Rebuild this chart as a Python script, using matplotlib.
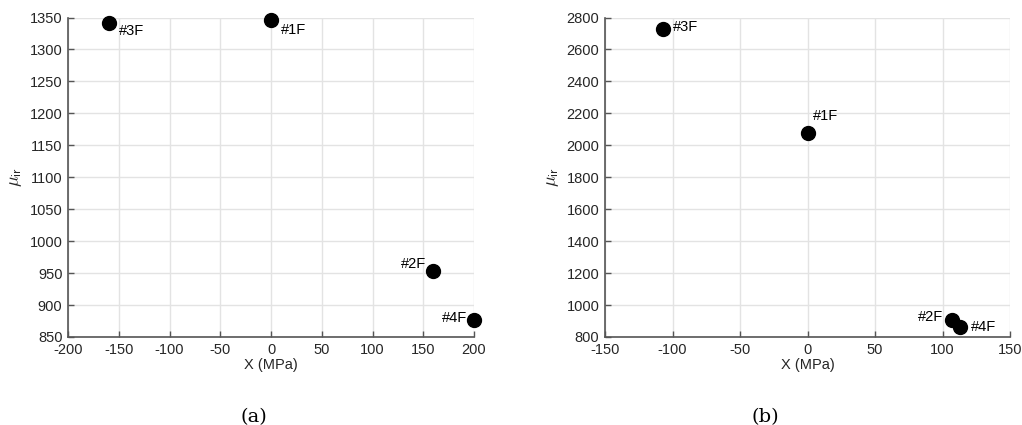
import matplotlib
matplotlib.use("Agg")
import matplotlib.pyplot as plt

# Data
labels = ["#1F", "#2F", "#3F", "#4F"]
x_a = [0, 160, -160, 200]
mu_a = [1346, 953, 1342, 877]
x_b = [0, 107, -107, 113]
mu_b = [2076, 905, 2728, 861]

# label offsets in pixels (dx, dy, ha)
offs_a = {"#1F": (10, -10, "left"), "#2F": (-7, 7, "right"),
          "#3F": (10, -8, "left"), "#4F": (-7, 2, "right")}
offs_b = {"#1F": (5, 17, "left"), "#2F": (-9, 3, "right"),
          "#3F": (10, 2, "left"), "#4F": (11, 0, "left")}

plt.rcParams['font.family'] = ['Liberation Sans', 'DejaVu Sans']
plt.rcParams['mathtext.fontset'] = 'cm'
plt.rcParams['axes.unicode_minus'] = False

W, H = 1022, 425
fig = plt.figure(figsize=(W / 100, H / 100), dpi=100)

def px_axes(l, r, t, b):
    return fig.add_axes([l / W, 1 - b / H, (r - l) / W, (b - t) / H])

ax1 = px_axes(68, 474, 17.5, 337)
ax2 = px_axes(605, 1010, 17.5, 337)

def style(ax, xlim, xticks, ylim, yticks):
    ax.set_xlim(*xlim)
    ax.set_ylim(*ylim)
    ax.set_xticks(xticks)
    ax.set_yticks(yticks)
    ax.grid(True, color='#e3e3e3', linewidth=1.0)
    ax.set_axisbelow(True)
    for s in ['top', 'right']:
        ax.spines[s].set_visible(False)
    for s in ['left', 'bottom']:
        ax.spines[s].set_color('#555555')
        ax.spines[s].set_linewidth(1.2)
    ax.tick_params(direction='in', length=4, width=1, colors='#555555',
                   labelcolor='#262626', labelsize=10.5, pad=4)
    ax.set_xlabel('X (MPa)', fontsize=10.5, color='#262626', labelpad=1)
    ax.set_ylabel(r'$\mu_{\mathsf{ir}}$', fontsize=13, color='#262626', labelpad=4)

style(ax1, (-200, 200), list(range(-200, 201, 50)), (850, 1350), list(range(850, 1351, 50)))
style(ax2, (-150, 150), list(range(-150, 151, 50)), (800, 2800), list(range(800, 2801, 200)))

for ax, xs, ys, offs in [(ax1, x_a, mu_a, offs_a), (ax2, x_b, mu_b, offs_b)]:
    ax.scatter(xs, ys, s=100, color='black', zorder=3, clip_on=False)
    for lab, xv, yv in zip(labels, xs, ys):
        dx, dy, ha = offs[lab]
        ax.annotate(lab, (xv, yv), xytext=(dx, dy), textcoords='offset pixels',
                    ha=ha, va='center', fontsize=10.5, color='black')

fig.text(254 / W, 1 - 417 / H, '(a)', ha='center', va='center',
         fontsize=14, family='DejaVu Serif')
fig.text(765 / W, 1 - 417 / H, '(b)', ha='center', va='center',
         fontsize=14, family='DejaVu Serif')

fig.savefig('out.png', dpi=100)
